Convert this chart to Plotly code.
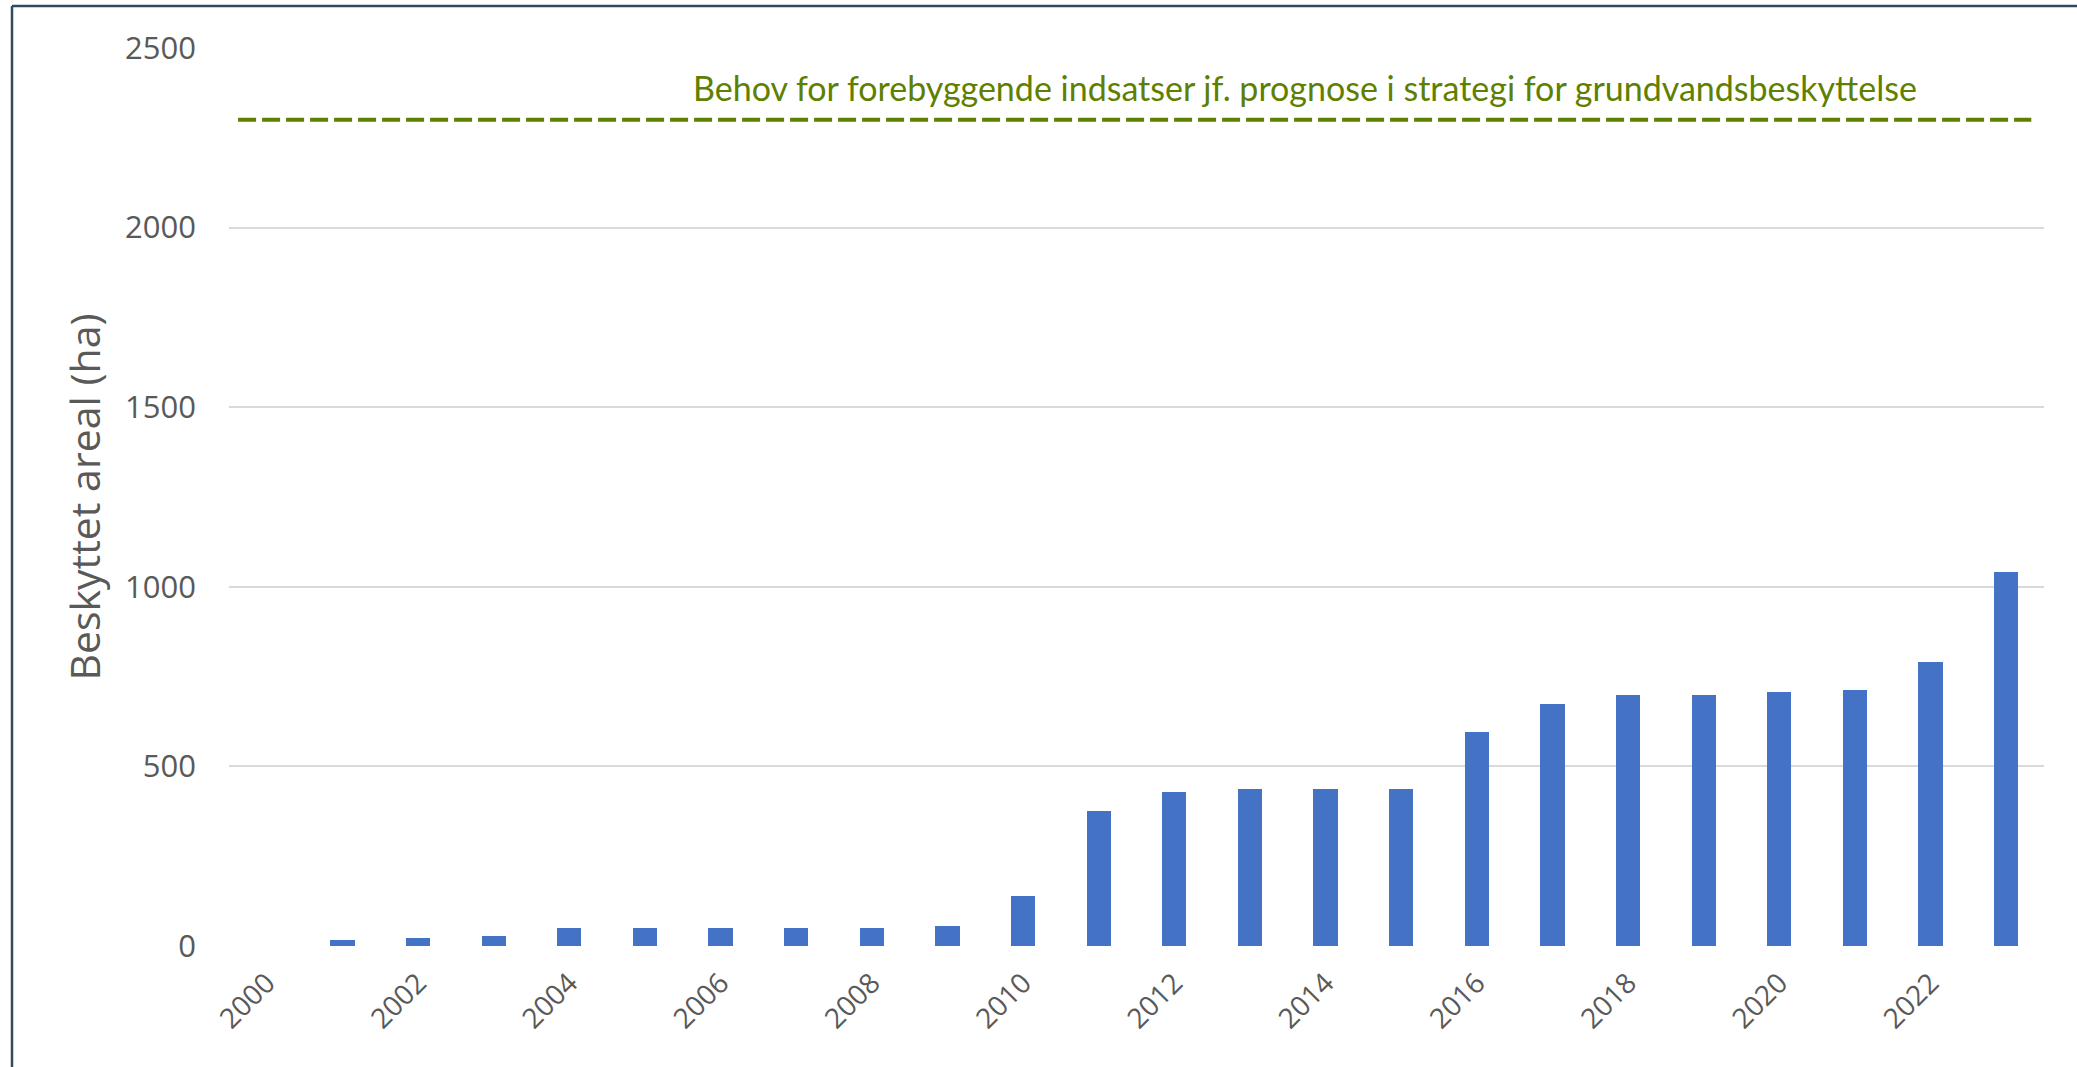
import plotly.graph_objects as go

years = list(range(2000, 2024))
protected_area_ha = [0, 16, 23, 29, 49, 49, 49, 49, 49, 55, 139, 377, 430, 437,
                     437, 437, 595, 674, 700, 700, 706, 713, 792, 1042]
target_ha = 2300
target_label = "Behov for forebyggende indsatser jf. prognose i strategi for grundvandsbeskyttelse"
y_title = "Beskyttet areal (ha)"
x_tick_years = years[::2]
y_ticks = [0, 500, 1000, 1500, 2000, 2500]

W, H = 2077, 1067
L, R, T, B = 229, 33, 48, 121

fig = go.Figure()
fig.add_trace(go.Bar(
    x=years, y=protected_area_ha, width=0.32,
    marker=dict(color="#4472C4", line=dict(width=0)),
    showlegend=False,
))

grey = "#595959"
fig.update_layout(
    width=W, height=H,
    margin=dict(l=L, r=R, t=T, b=B, pad=0),
    paper_bgcolor="white", plot_bgcolor="white",
    font=dict(family="Open Sans, sans-serif", color=grey),
    xaxis=dict(
        range=[1999.5, 2023.5], tickmode="array", tickvals=x_tick_years,
        ticktext=[str(y) for y in x_tick_years], tickangle=-45,
        tickfont=dict(size=28, color=grey), showgrid=False, zeroline=False,
        showline=False, ticks="", ticklabelstandoff=14,
    ),
    yaxis=dict(
        range=[0, 2500], tickmode="array", tickvals=y_ticks,
        tickfont=dict(size=31, color=grey), showgrid=True,
        gridcolor="#D9D9D9", gridwidth=2, zeroline=False, showline=False,
        ticks="", ticklabelstandoff=32,
        title=dict(text=y_title, font=dict(size=41, color=grey), standoff=11),
    ),
    bargap=0,
)

# target dashed line
fig.add_shape(type="line", xref="x domain", yref="y", x0=0.005, x1=0.993,
              y0=target_ha, y1=target_ha,
              line=dict(color="#5F7F00", width=4, dash="18px,6px"))
fig.add_annotation(xref="paper", yref="y", x=0.593, y=target_ha, yshift=32,
                   text=target_label, showarrow=False, xanchor="center", yanchor="middle",
                   font=dict(family="Lato, sans-serif", size=34, color="#5F7F00"))

# outer frame (top and left edges visible)
px2x = lambda px: (px - L) / (W - L - R)
px2y = lambda py: (H - B - py) / (H - T - B)
frame = dict(color="#2E4B5F", width=2.5)
fig.add_shape(type="line", xref="paper", yref="paper",
              x0=px2x(12), x1=px2x(W), y0=px2y(6), y1=px2y(6), line=frame, layer="above")
fig.add_shape(type="line", xref="paper", yref="paper",
              x0=px2x(12), x1=px2x(12), y0=px2y(6), y1=px2y(H), line=frame, layer="above")

fig.write_html("out.html", config={"displayModeBar": False},
               post_script="document.body.style.margin='0';document.body.style.overflow='hidden';")
